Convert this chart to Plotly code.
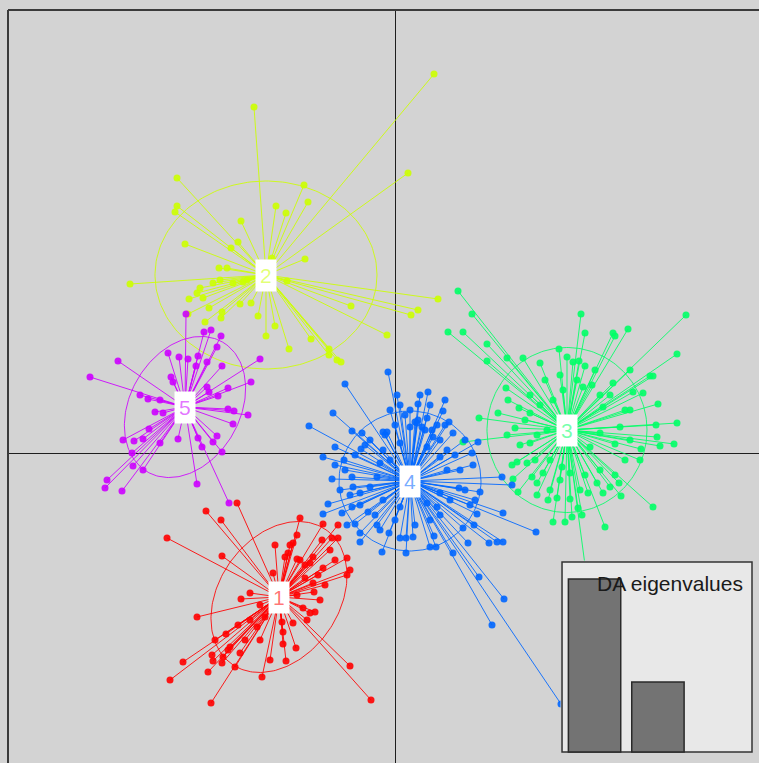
import numpy as np
import plotly.graph_objects as go

# ---------------- data (LD1, LD2 scores) ----------------
groups = ["1", "2", "3", "4", "5"]
group_colors = ["#FF0000", "#CCFF00", "#00FF66", "#0066FF", "#CC00FF"]

ld1_g1 = [-15.8, -18.9, -17.4, -22.8, -17.3, -12.0, -9.5, -7.2, -5.7, -9.8, -10.7, -11.0, -9.8, -8.2, -7.3,
          -6.3, -5.7, -4.8, -7.2, -4.5, -4.8, -8.2, -9.0, -8.1, -9.2, -8.5, -9.8, -12.2, -14.5, -15.4,
          -13.5, -19.8, -13.0, -11.3, -10.2, -8.8, -15.7, -16.9, -11.2, -9.9, -15.5, -18.3, -17.2, -21.2,
          -18.2, -17.3, -16.0, -10.9, -18.7, -22.5, -13.3, -4.5, -18.4, -2.4, -16.5, -13.8, -11.2, -10.2, -8.5,
          -9.5, -9.0, -7.7, -7.0, -6.0, -7.5, -8.0, -14.5, -15.0, -16.7, -13.5, -12.5, -18.0, -6.5, -10.5]
ld2_g1 = [-5.0, -5.8, -6.7, -8.5, -10.3, -9.2, -6.5, -7.1, -7.2, -8.2, -10.0, -10.4, -10.6, -10.4, -8.7,
          -8.5, -8.5, -10.5, -11.5, -11.7, -12.2, -13.0, -12.5, -13.9, -15.5, -16.0, -14.2, -12.0, -14.0, -14.6,
          -15.2, -16.4, -16.4, -16.9, -17.0, -16.7, -17.2, -18.1, -19.1, -19.5, -20.0, -20.2, -20.4, -20.9,
          -20.8, -21.0, -21.4, -20.8, -21.9, -22.7, -22.4, -21.3, -25.0, -24.7, -19.4, -17.4, -17.9, -9.0, -11.0,
          -10.7, -11.2, -12.2, -13.2, -10.7, -14.7, -15.9, -16.7, -18.7, -19.7, -18.7, -20.7, -18.7, -9.7, -9.2]

ld1_g2 = [3.9, -14.1, 1.3, -21.8, -9.1, -21.8, -22.0, -8.7, -11.9, -10.9, -15.4, -15.7, -21.0, -16.4, -9.0,
          -17.6, -16.8, -26.5, -18.2, -19.5, -19.8, -20.6, -19.2, -18.6, -20.7, -17.3, -17.4, -19.0, -15.5,
          -14.4, -13.7, -12.9, -12.0, -10.6, -8.4, -6.6, -6.6, -5.8, -5.4, -4.4, -0.8, 4.3, 2.3, 1.6, -14.8,
          -15.2, -10.8, -16.2, -17.5, -12.3]
ld2_g2 = [37.9, 34.6, 28.0, 27.5, 26.8, 24.7, 24.1, 25.1, 24.7, 24.0, 23.2, 21.1, 20.9, 20.5, 19.4,
          18.5, 18.5, 16.9, 17.0, 16.5, 16.0, 15.4, 15.5, 14.5, 13.9, 14.1, 13.5, 13.1, 14.9,
          15.0, 13.7, 11.7, 12.7, 10.4, 11.4, 10.4, 9.8, 9.3, 9.1, 14.7, 11.8, 15.4, 14.3, 13.8, 17.3,
          17.1, 17.2, 17.0, 17.3, 19.5]

ld1_g3 = [6.3, 7.7, 5.3, 6.8, 9.2, 9.2, 11.2, 12.8, 14.5, 18.6, 19.0, 21.8, 22.0, 23.3, 29.1, 28.2, 23.5,
          25.5, 25.8, 16.4, 17.2, 17.8, 18.4, 19.0, 21.8, 23.8, 24.8, 11.1, 11.3, 12.4, 10.3, 8.4, 26.3,
          23.5, 26.1, 28.2, 26.2, 27.9, 26.5, 24.6, 22.0, 6.8, 12.0, 11.2, 13.5, 11.7, 12.2, 13.2, 11.8,
          12.3, 13.7, 14.2, 14.2, 15.3, 16.2, 15.8, 17.0, 17.7, 18.7, 18.3, 17.5, 19.3, 20.8, 21.5, 22.4,
          22.6, 20.2, 21.0, 25.8, 19.0, 16.7, 17.5, 15.5, 14.8, 18.8, 18.2, 16.8, 15.8, 19.7, 20.8, 22.5,
          20.5, 15.2, 14.2, 19.5, 13.5,
          13.5, 15.0, 16.5, 20.0, 21.5, 23.0, 23.5, 23.0, 20.5, 19.0, 16.5, 14.0, 12.5, 13.0, 14.5, 20.5,
          22.0, 15.5, 18.5, 24.5]
ld2_g3 = [16.2, 13.9, 12.1, 12.1, 10.9, 9.2, 9.5, 9.5, 9.0, 13.9, 12.0, 12.0, 11.7, 12.4, 13.8, 9.9, 8.3,
          7.7, 7.7, 10.4, 9.6, 9.1, 9.2, 8.7, 7.0, 6.1, 6.0, 6.5, 5.3, 4.5, 4.0, 3.5, 4.9,
          4.3, 2.8, 3.0, 1.6, 0.9, 0.7, 0.4, 0.9, 1.1, 2.5, 1.8, 1.0, -1.2, -0.9, -1.0, -2.6,
          -3.9, -2.4, -3.0, -4.2, -4.7, -4.5, -6.9, -6.9, -6.4, -6.2, -5.5, -4.6, -4.0, -4.0, -3.4, -3.0,
          -4.3, -3.0, -7.4, -5.4, -11.2, -1.4, -2.0, -0.7, -2.0, 6.6, 7.3, 6.3, 5.3, 6.8, 4.6, 2.6,
          2.0, 2.3, 1.8, 0.6, 4.0,
          5.8, 7.3, 7.8, 8.3, 5.8, 4.3, 1.3, -0.7, -1.7, -2.2, -2.7, -0.7, 0.8, 3.3, 4.8, 5.8,
          -2.2, -3.7, -3.7, -0.7]

ld1_g4 = [-0.7, -5.0, 0.2, 3.3, -6.2, -8.6, 2.3, 1.5, 4.8, 5.4, 5.8, -4.3, -3.3, -1.2, -0.8, 3.2, 2.3,
          -6.0, -3.4, -7.2, -5.1, 8.3, 7.7, 7.0, 7.8, -6.3, -4.3, 10.7, 11.7, -4.2, -3.5, 6.4, 8.5, -6.7,
          -7.2, -5.3, -4.3, -4.8, -4.0, -2.7, 4.2, 8.0, 10.8, 8.2, 6.8, 7.9, 14.1, -3.5, -1.8, -0.6, 0.5,
          1.1, 1.8, 3.9, -3.5, 3.5, 4.1, 5.8, 7.3, 9.4, 10.2, 10.8, -1.3, 1.1, 8.4, 10.9, 9.7, 16.6,
          -1.2, 0.5, 3.2, 4.5, 5.2, 4.5, 3.2, 0.5, -1.2, -1.8, -1.5, 1.5, 2.2, -0.5, -2.5, 3.8, 5.2,
          2.0, 2.7, 3.7, 4.2,
          -2.5, 0.0, 1.0, 4.5, 6.0, 6.5, 5.5, 3.5, 2.0, 0.0, -2.0, -3.5, -4.5, -5.0, -4.0, -3.0, -1.0,
          3.0, 5.0, 7.0, 7.5, 4.5, -1.5, -5.5, -6.0, 2.5, 0.5, 3.5, 5.0, -0.5]
ld2_g4 = [8.1, 6.9, 5.8, 6.1, 4.0, 2.7, 4.9, 4.3, 4.2, 3.1, 2.0, 2.2, 2.0, 2.1, 2.1, 3.5, 3.3,
          0.6, 0.4, -0.4, -0.7, 1.1, 0.0, 1.3, -1.2, -2.6, -2.4, -2.4, -3.2, -3.4, -4.0, -3.5, -3.9, -5.1,
          -6.1, -6.0, -5.4, -7.2, -7.1, -5.9, -5.4, -4.7, -6.0, -6.1, -7.5, -7.2, -7.9, -8.0, -7.2, -8.0, -8.5,
          -8.5, -8.4, -8.3, -8.9, -9.4, -9.4, -10.0, -9.0, -9.0, -8.9, -8.9, -9.9, -10.0, -12.4, -14.6, -17.2, -25.1,
          0.3, 1.0, 0.6, -0.4, -1.7, -4.0, -5.0, -5.4, -4.7, -2.4, -1.0, 2.6, 3.0, -0.7, -3.4, 1.6, 0.3,
          3.1, 2.6, 2.3, 2.8,
          1.3, 2.8, 3.8, 1.3, -0.2, -1.7, -4.7, -6.7, -7.2, -6.7, -6.2, -5.2, -4.2, -1.7, -0.2, 0.8, 1.8,
          2.3, 2.8, -3.7, -5.2, -6.2, -7.7, -3.7, -1.2, 5.8, 4.8, 4.8, 5.3, 4.3]

ld1_g5 = [-20.9, -19.1, -18.4, -17.4, -22.7, -21.6, -20.7, -19.7, -17.8, -18.8, -19.9, -17.3, -27.7, -13.5,
          -30.5, -22.4, -22.2, -14.4, -18.8, -16.7, -25.5, -24.7, -23.5, -17.7, -18.6, -24.0, -23.2, -16.7,
          -16.1, -14.7, -16.2, -24.6, -27.2, -26.1, -25.2, -23.5, -21.7, -19.7, -19.3, -17.8, -18.2, -17.3,
          -26.3, -26.2, -25.2, -28.8, -29.0, -27.3, -19.8, -16.6]
ld2_g5 = [13.9, 12.1, 12.3, 11.7, 10.0, 9.6, 9.4, 9.7, 10.6, 9.1, 8.7, 8.7, 9.2, 9.4,
          7.6, 7.6, 7.1, 7.1, 6.6, 6.5, 5.8, 5.4, 5.3, 5.7, 6.1, 4.1, 4.0, 4.4,
          4.2, 3.8, 2.9, 2.4, 1.3, 1.2, 1.4, 1.0, 1.4, 1.5, 0.6, 1.7, 1.1, 0.1,
          0.0, -1.3, -1.7, -2.7, -3.5, -3.8, -3.1, -5.0]

ld1_by_group = [ld1_g1, ld1_g2, ld1_g3, ld1_g4, ld1_g5]
ld2_by_group = [ld2_g1, ld2_g2, ld2_g3, ld2_g4, ld2_g5]

# group centres
cent_ld1 = [-11.6, -12.9, 17.2, 1.5, -21.0]
cent_ld2 = [-14.4, 17.8, 2.3, -2.8, 4.6]

# inertia ellipses: semi-axes and orientation (degrees)
ell_a = [8.2, 11.1, 8.0, 7.1, 7.5]
ell_b = [6.0, 9.4, 8.25, 7.0, 5.5]
ell_angle = [55, 0, 0, 0, 60]

# DA eigenvalues (inset)
eig_values = [860.0, 348.0]
eig_axis_max = 945.0


def rgba(hex_color, a):
    h = hex_color.lstrip("#")
    r, g, b = int(h[0:2], 16), int(h[2:4], 16), int(h[4:6], 16)
    return f"rgba({r},{g},{b},{a})"


fig = go.Figure()

# ellipses
t = np.linspace(0, 2 * np.pi, 200)
for k in range(len(groups)):
    th = np.deg2rad(ell_angle[k])
    ex = ell_a[k] * np.cos(t)
    ey = ell_b[k] * np.sin(t)
    xs = cent_ld1[k] + ex * np.cos(th) - ey * np.sin(th)
    ys = cent_ld2[k] + ex * np.sin(th) + ey * np.cos(th)
    fig.add_trace(go.Scatter(x=xs, y=ys, mode="lines",
                             line=dict(color=rgba(group_colors[k], 0.85), width=1),
                             hoverinfo="skip", showlegend=False))

# stars: segments from group centre to each individual
for k in range(len(groups)):
    sx, sy = [], []
    for x, y in zip(ld1_by_group[k], ld2_by_group[k]):
        sx += [cent_ld1[k], x, None]
        sy += [cent_ld2[k], y, None]
    fig.add_trace(go.Scatter(x=sx, y=sy, mode="lines",
                             line=dict(color=rgba(group_colors[k], 0.88), width=1),
                             hoverinfo="skip", showlegend=False))

# individuals
for k in range(len(groups)):
    fig.add_trace(go.Scatter(x=ld1_by_group[k], y=ld2_by_group[k], mode="markers",
                             marker=dict(color=rgba(group_colors[k], 0.9), size=7, line=dict(width=0)),
                             name=groups[k], showlegend=False))

# group labels
for k in range(len(groups)):
    fig.add_annotation(x=cent_ld1[k], y=cent_ld2[k], xref="x", yref="y", text=groups[k],
                       showarrow=False, bgcolor="white", borderpad=4,
                       font=dict(size=21, color=rgba(group_colors[k], 0.55),
                                 family="Liberation Sans, Arial, sans-serif"))

# ---------------- inset: DA eigenvalues ----------------
# background panel drawn as a wide bar so that it sits under the eigenvalue bars
fig.add_trace(go.Bar(x=[0.9855], y=[eig_axis_max], width=[2.997],
                     marker=dict(color="#E8E8E8", line=dict(color="#333333", width=1.5)),
                     xaxis="x2", yaxis="y2", hoverinfo="skip", showlegend=False))
fig.add_trace(go.Bar(x=list(range(len(eig_values))), y=eig_values, width=0.826,
                     marker=dict(color="#737373", line=dict(color="#2a2a2a", width=1.5)),
                     xaxis="x2", yaxis="y2", hoverinfo="skip", showlegend=False))
fig.add_annotation(x=2.374, y=840, xref="x2", yref="y2", text="DA eigenvalues",
                   showarrow=False, xanchor="right", yanchor="middle",
                   font=dict(size=21, color="#1a1a1a", family="Liberation Sans, Arial, sans-serif"))

# ---------------- layout ----------------
fig.update_layout(
    width=759, height=763,
    margin=dict(l=8, r=0, t=10, b=0),
    paper_bgcolor="#D3D3D3",
    plot_bgcolor="#D3D3D3",
    showlegend=False,
    barmode="overlay",
    xaxis=dict(range=[-38.7, 36.4], showgrid=False, showticklabels=False, ticks="",
               zeroline=True, zerolinecolor="#1e1e1e", zerolinewidth=1.2, fixedrange=True),
    yaxis=dict(range=[-31.0, 44.3], showgrid=False, showticklabels=False, ticks="",
               zeroline=True, zerolinecolor="#1e1e1e", zerolinewidth=1.2, fixedrange=True),
    xaxis2=dict(domain=[0.7357, 0.9927], anchor="y2", range=[-0.537, 2.508],
                showgrid=False, showticklabels=False, ticks="", zeroline=False, fixedrange=True),
    yaxis2=dict(domain=[0.0126, 0.2689], anchor="x2", range=[-7.5, 952],
                showgrid=False, showticklabels=False, ticks="", zeroline=False, fixedrange=True),
    shapes=[
        dict(type="line", xref="paper", yref="paper", x0=0, x1=0, y0=0, y1=1,
             line=dict(color="#3a3a3a", width=2)),
        dict(type="line", xref="paper", yref="paper", x0=0, x1=1, y0=1, y1=1,
             line=dict(color="#3a3a3a", width=2)),
    ],
)

fig.write_html(
    "out.html",
    config={"displayModeBar": False},
    post_script="document.body.style.margin='0';document.body.style.background='#D3D3D3';",
)
